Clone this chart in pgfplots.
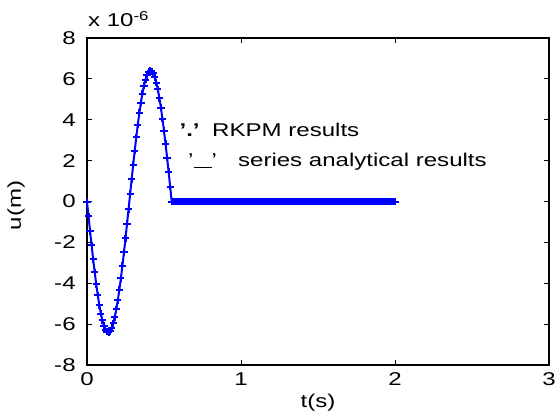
\documentclass[border=0pt]{standalone}
\usepackage{fontspec}
\setmainfont{Liberation Sans}[FakeStretch=1.3]
\usepackage{pgfplots}
\pgfplotsset{compat=1.18}
\definecolor{mblue}{RGB}{0,0,255}

\begin{document}
\fontsize{18.5}{21}\selectfont
\begin{tikzpicture}
\begin{axis}[
    name=ax,
    scale only axis,
    width=462pt,
    height=327pt,
    xmin=0, xmax=3,
    ymin=-8, ymax=8,
    xtick={0,1,2,3},
    ytick={-8,-6,...,8},
    tick align=inside,
    major tick length=5pt,
    axis line style={line width=1.2pt},
    every tick/.style={black,line width=1pt},
    /pgf/number format/assume math mode=true,
    yticklabel style={xshift=-5pt},
    xticklabel style={yshift=-1pt},
    xlabel={t(s)},
    ylabel={u(m)},
    xlabel style={at={(axis description cs:0.5,0)},anchor=north,yshift=-23pt},
    ylabel style={at={(axis description cs:0,0.5)},anchor=south,xshift=-4pt,yshift=56pt},
    clip=false,
]
% RKPM / analytical response, u in units of 1e-6 m
\addplot[mblue, line width=2pt, mark=+, mark size=3.6pt,
         mark options={line width=2pt}] coordinates {
(0.00,0) (0.01,-0.730) (0.02,-1.449) (0.03,-2.151) (0.04,-2.824)
(0.05,-3.460) (0.06,-4.052) (0.07,-4.590) (0.08,-5.069) (0.09,-5.481)
(0.10,-5.822) (0.11,-6.087) (0.12,-6.272) (0.13,-6.377) (0.14,-6.397)
(0.15,-6.335) (0.16,-6.190) (0.17,-5.964) (0.18,-5.660) (0.19,-5.283)
(0.20,-4.837) (0.21,-4.327) (0.22,-3.762) (0.23,-3.147) (0.24,-2.492)
(0.25,-1.803) (0.26,-1.091) (0.27,-0.365) (0.28,0.365) (0.29,1.091)
(0.30,1.803) (0.31,2.492) (0.32,3.147) (0.33,3.762) (0.34,4.327)
(0.35,4.837) (0.36,5.283) (0.37,5.660) (0.38,5.964) (0.39,6.190)
(0.40,6.335) (0.41,6.397) (0.42,6.377) (0.43,6.272) (0.44,6.087)
(0.45,5.822) (0.46,5.481) (0.47,5.069) (0.48,4.590) (0.49,4.052)
(0.50,3.460) (0.51,2.824) (0.52,2.151) (0.53,1.449) (0.54,0.730)
(0.55,0) (0.56,0) (0.57,0) (0.58,0) (0.59,0)
(0.60,0) (0.61,0) (0.62,0) (0.63,0) (0.64,0) (0.65,0) (0.66,0) (0.67,0) (0.68,0) (0.69,0)
(0.70,0) (0.71,0) (0.72,0) (0.73,0) (0.74,0) (0.75,0) (0.76,0) (0.77,0) (0.78,0) (0.79,0)
(0.80,0) (0.81,0) (0.82,0) (0.83,0) (0.84,0) (0.85,0) (0.86,0) (0.87,0) (0.88,0) (0.89,0)
(0.90,0) (0.91,0) (0.92,0) (0.93,0) (0.94,0) (0.95,0) (0.96,0) (0.97,0) (0.98,0) (0.99,0)
(1.00,0) (1.01,0) (1.02,0) (1.03,0) (1.04,0) (1.05,0) (1.06,0) (1.07,0) (1.08,0) (1.09,0)
(1.10,0) (1.11,0) (1.12,0) (1.13,0) (1.14,0) (1.15,0) (1.16,0) (1.17,0) (1.18,0) (1.19,0)
(1.20,0) (1.21,0) (1.22,0) (1.23,0) (1.24,0) (1.25,0) (1.26,0) (1.27,0) (1.28,0) (1.29,0)
(1.30,0) (1.31,0) (1.32,0) (1.33,0) (1.34,0) (1.35,0) (1.36,0) (1.37,0) (1.38,0) (1.39,0)
(1.40,0) (1.41,0) (1.42,0) (1.43,0) (1.44,0) (1.45,0) (1.46,0) (1.47,0) (1.48,0) (1.49,0)
(1.50,0) (1.51,0) (1.52,0) (1.53,0) (1.54,0) (1.55,0) (1.56,0) (1.57,0) (1.58,0) (1.59,0)
(1.60,0) (1.61,0) (1.62,0) (1.63,0) (1.64,0) (1.65,0) (1.66,0) (1.67,0) (1.68,0) (1.69,0)
(1.70,0) (1.71,0) (1.72,0) (1.73,0) (1.74,0) (1.75,0) (1.76,0) (1.77,0) (1.78,0) (1.79,0)
(1.80,0) (1.81,0) (1.82,0) (1.83,0) (1.84,0) (1.85,0) (1.86,0) (1.87,0) (1.88,0) (1.89,0)
(1.90,0) (1.91,0) (1.92,0) (1.93,0) (1.94,0) (1.95,0) (1.96,0) (1.97,0) (1.98,0) (1.99,0)
(2.00,0)
};
% text legend as in the original figure
\node[anchor=base west,inner sep=0pt] at (axis cs:0.600,3.16) {\textbf{'.'}};
\node[anchor=base west,inner sep=0pt] at (axis cs:0.812,3.16) {RKPM results};
\node[anchor=base west,inner sep=0pt] at (axis cs:0.656,1.69) {'\rule[-1pt]{18pt}{0.9pt}'};
\node[anchor=base west,inner sep=0pt] at (axis cs:0.980,1.69) {series analytical results};
\node[anchor=base west,inner sep=0pt] at (axis cs:0.006,8.54) {x 10\textsuperscript{-6}};
\end{axis}
\pgfresetboundingbox
\path[use as bounding box] ([xshift=-87pt,yshift=-49pt]ax.south west)
    rectangle ([xshift=7pt,yshift=38pt]ax.north east);
\end{tikzpicture}
\end{document}
